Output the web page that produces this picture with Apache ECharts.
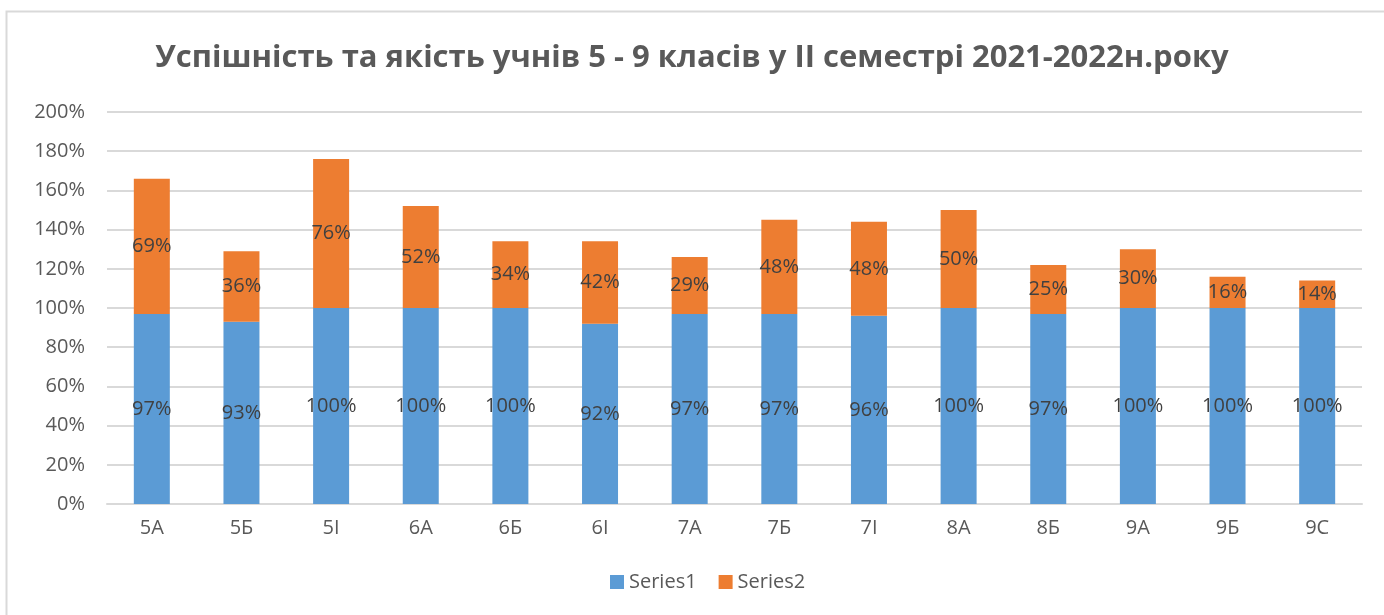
<!DOCTYPE html>
<html><head><meta charset="utf-8">
<script src="https://cdn.jsdelivr.net/npm/echarts@6/dist/echarts.min.js"></script>
<style>html,body{margin:0;padding:0;background:#fff}#c{width:1384px;height:615px}</style>
</head><body><div id="c"></div>
<script>
var categories = ['5А','5Б','5І','6А','6Б','6І','7А','7Б','7І','8А','8Б','9А','9Б','9С'];
var series1 = [97,93,100,100,100,92,97,97,96,100,97,100,100,100];
var series2 = [69,36,76,52,34,42,29,48,48,50,25,30,16,14];
var yTicks = [0,20,40,60,80,100,120,140,160,180,200];

var chart = echarts.init(document.getElementById('c'));
var txt = '#595959';
var font = '"Open Sans", "Noto Sans", sans-serif';
var lbl = {show:true, position:'inside', formatter:function(p){return p.value+'%';}, color:'#404040', fontSize:20, fontFamily:font};
chart.setOption({
  animation:false,
  textStyle:{fontFamily:font},
  title:{text:'Успішність та якість учнів 5 - 9 класів у ІІ семестрі 2021-2022н.року', left:'center', top:38,
    textStyle:{fontSize:31, fontWeight:'bold', color:txt, fontFamily:font}},
  graphic:[{type:'rect', shape:{x:6.5,y:11.5,width:1400,height:700}, style:{fill:null, stroke:'#d9d9d9', lineWidth:2}, silent:true}],
  legend:{bottom:18, left:605, itemWidth:14, itemHeight:14, itemGap:22, icon:'rect',
    textStyle:{fontSize:20, color:txt, fontFamily:font}},
  grid:{left:107, right:22, top:112, bottom:111, containLabel:false},
  xAxis:{type:'category', data:categories, axisTick:{show:false},
    axisLine:{lineStyle:{color:'#d9d9d9', width:2}},
    axisLabel:{color:txt, fontSize:20, margin:14, fontFamily:font}},
  yAxis:{type:'value', min:yTicks[0], max:yTicks[yTicks.length-1], interval:20,
    axisLine:{show:false}, axisTick:{show:false},
    splitLine:{lineStyle:{color:'#d9d9d9', width:2}},
    axisLabel:{color:txt, fontSize:20, margin:22, formatter:'{value}%', fontFamily:font}},
  series:[
    {name:'Series1', type:'bar', stack:'a', data:series1, barWidth:36, itemStyle:{color:'#5B9BD5'}, label:lbl},
    {name:'Series2', type:'bar', stack:'a', data:series2, barWidth:36, itemStyle:{color:'#ED7D31'}, label:lbl}
  ]
});
</script></body></html>
